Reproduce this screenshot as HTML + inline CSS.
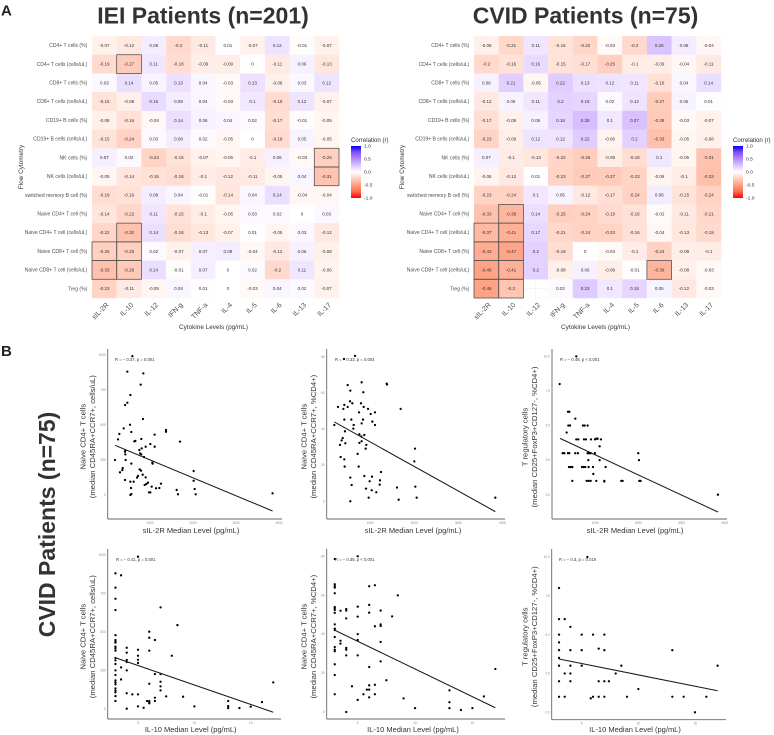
<!DOCTYPE html>
<html>
<head>
<meta charset="utf-8">
<title>Cytokine correlation figure</title>
<style>
html,body{margin:0;padding:0;background:#fff;width:774px;height:735px;overflow:hidden}
svg{display:block;font-family:"Liberation Sans",sans-serif;filter:blur(0.35px)}
</style>
</head>
<body>
<svg id="fig" width="774" height="735" viewBox="0 0 774 735" xmlns="http://www.w3.org/2000/svg">
<defs>
<linearGradient id="corrGrad" x1="0" y1="0" x2="0" y2="1">
<stop offset="0" stop-color="#0000ff"/><stop offset="0.125" stop-color="#8652ff"/><stop offset="0.25" stop-color="#b38bff"/><stop offset="0.375" stop-color="#dcc6ff"/><stop offset="0.5" stop-color="#ffffff"/><stop offset="0.625" stop-color="#ffd0c0"/><stop offset="0.75" stop-color="#ff9e81"/><stop offset="0.875" stop-color="#ff6d4f"/><stop offset="1" stop-color="#ff0000"/>
</linearGradient>
</defs>
<rect x="0" y="0" width="774" height="735" fill="#fff"/>
<text x="1" y="15.5" font-size="15" font-weight="bold" fill="#222">A</text>
<text x="1" y="356" font-size="15" font-weight="bold" fill="#222">B</text>
<text x="203" y="23.5" font-size="23" font-weight="bold" fill="#333" text-anchor="middle">IEI Patients (n=201)</text>
<text x="585.5" y="23.5" font-size="23" font-weight="bold" fill="#333" text-anchor="middle">CVID Patients (n=75)</text>
<text transform="translate(55,524.5) rotate(-90)" font-size="23" font-weight="bold" fill="#333" text-anchor="middle">CVID Patients (n=75)</text>
<g id="heatA"></g>
<g id="heatB"></g>
<g id="p1"></g>
<g id="p2"></g>
<g id="p3"></g>
<g id="p4"></g>
<g id="p5"></g>
<g id="p6"></g>
</svg>
<script>
const cytokines = ["sIL-2R","IL-10","IL-12","IFN-g","TNF-a","IL-4","IL-5","IL-6","IL-13","IL-17"];
const flowRows = ["CD4+ T cells (%)","CD4+ T cells (cells/uL)","CD8+ T cells (%)","CD8+ T cells (cells/uL)","CD19+ B cells (%)","CD19+ B cells (cells/uL)","NK cells (%)","NK cells (cells/uL)","switched memory B cell (%)","Naive CD4+ T cell (%)","Naive CD4+ T cell (cells/uL)","Naive CD8+ T cell (%)","Naive CD8+ T cell (cells/uL)","Treg (%)"];
const legendTicks = [1,0.5,0,-0.5,-1];

const ieiValues = [
[-0.07,-0.12,0.08,-0.2,-0.11,0.01,-0.07,0.12,-0.01,-0.07],
[-0.19,-0.27,0.11,-0.18,-0.09,-0.09,0,-0.11,0.06,-0.13],
[0.03,0.14,0.05,0.13,0.04,-0.03,0.13,-0.08,0.03,0.12],
[-0.15,-0.08,0.16,0.08,0.04,-0.03,0.1,-0.19,0.12,-0.07],
[-0.08,-0.16,-0.04,0.14,0.06,0.04,0.02,-0.17,-0.01,-0.05],
[-0.15,-0.24,0.03,0.08,0.02,-0.05,0,-0.19,0.05,-0.05],
[0.07,0.02,-0.23,-0.15,-0.07,-0.05,-0.1,0.06,-0.03,-0.25],
[-0.05,-0.14,-0.16,-0.18,-0.1,-0.12,-0.11,-0.05,0.04,-0.31],
[-0.18,-0.16,0.08,0.04,-0.01,-0.14,0.04,0.14,-0.04,-0.04],
[-0.14,-0.22,0.11,-0.15,-0.1,-0.05,0.03,0.02,0,0.03],
[-0.22,-0.32,0.14,-0.18,-0.13,-0.07,0.01,-0.05,0.03,-0.12],
[-0.25,-0.25,0.02,-0.07,0.07,0.08,-0.04,-0.12,0.06,-0.08],
[-0.33,-0.28,0.14,-0.01,0.07,0,0.02,-0.2,0.11,-0.06],
[-0.23,-0.11,-0.05,0.04,0.01,0,-0.03,0.04,0.02,-0.07]];
const ieiSignificant = ["1,1","6,9","7,9","10,1","11,0","11,1","12,0","12,1"];

const cvidValues = [
[-0.08,-0.21,0.11,-0.15,-0.22,-0.03,-0.2,0.26,0.08,-0.04],
[-0.2,-0.16,0.16,-0.15,-0.17,-0.25,-0.1,-0.09,-0.04,-0.11],
[0.06,0.21,-0.05,0.22,0.13,0.12,0.11,-0.16,0.04,0.14],
[-0.12,0.05,0.11,0.2,0.18,0.02,0.12,-0.27,0.05,0.01],
[-0.17,-0.08,0.06,0.18,0.28,0.1,0.27,-0.28,-0.03,-0.07],
[-0.23,-0.09,0.12,0.12,0.22,-0.06,0.2,-0.33,-0.05,-0.08],
[0.07,-0.1,-0.13,-0.22,-0.26,-0.09,-0.18,0.1,-0.05,-0.31],
[-0.06,-0.12,0.01,-0.23,-0.27,-0.27,-0.23,-0.06,-0.1,-0.33],
[-0.23,-0.24,0.1,0.05,-0.12,-0.17,-0.24,0.08,-0.15,-0.24],
[-0.33,-0.38,0.14,-0.25,-0.24,-0.19,-0.16,-0.02,-0.11,-0.21],
[-0.37,-0.41,0.17,-0.21,-0.24,-0.23,-0.16,-0.04,-0.13,-0.19],
[-0.43,-0.47,0.2,-0.18,0,-0.03,-0.1,-0.24,-0.09,-0.1],
[-0.48,-0.41,0.2,-0.08,0.06,-0.09,-0.01,-0.39,-0.08,-0.03],
[-0.48,-0.3,null,0.02,0.23,0.1,0.18,0.05,-0.12,-0.03]];
const cvidSignificant = ["9,1","10,0","10,1","11,0","11,1","12,0","12,1","12,7","13,0","13,1"];

const sil2rTicks = [1000,2000,3000,4000];
const il10Ticks = [5,10,15];
const countTicks = [0,250,500,750,1000];
const percentTicks = [0,20,40,60,80];
const tregTicks = [0,2.5,5,7.5,10];
const tregTickLabels = ["0.0","2.5","5.0","7.5","10.0"];

const p1X = [589,473,845,783,543,473,419,837,535,388,566,287,256,798,636,659,1108,1372,1372,1698,1008,1108,806,752,899,426,419,426,768,798,860,186,434,566,1054,1062,760,791,365,357,302,419,830,721,698,899,2015,2015,543,620,954,915,876,1256,1039,1140,1217,558,1620,2039,977,1008,566,543,1651,2062,3850];
const p1Y = [992,881,869,788,714,659,643,543,502,476,450,436,397,400,383,386,431,464,452,381,364,345,333,321,345,319,309,290,297,290,271,250,250,224,231,224,183,174,193,178,162,107,145,136,124,126,171,102,95,95,88,79,71,81,60,48,50,50,36,43,19,19,7,0,5,5,12];
const p1LineX = [186,3850];
const p1LineY = [355,-114];

const p2X = [661,412,495,811,1377,1385,555,849,548,600,796,276,419,495,857,1694,397,955,751,1113,1015,419,578,842,1053,811,193,1113,631,623,434,759,872,804,382,359,811,759,442,321,917,902,2018,721,336,419,2003,427,744,1249,872,1045,555,1226,992,1219,585,1611,2025,910,1038,1143,970,2056,1648,555,3835];
const p2Y = [80.4,78.7,64.3,65.8,65.1,64.6,61.2,60.3,55.3,54.2,54.2,52.2,53.3,52.2,52.2,51.1,51.1,51.1,49.2,49.2,48.3,45.2,45.2,45.2,44.1,43.1,42.2,42.2,42.2,40.2,38.7,37.1,36.7,35.9,35,33.7,33.2,32.3,32.1,31.2,31.2,29.1,29.1,26.2,24.5,23.2,22.1,19.2,19.2,16.2,14,13.6,13.1,11.6,11.1,9.2,9,7.6,8.1,7,6.1,5,2,2,0.9,0,2];
const p2LineX = [193,3835];
const p2LineY = [43.9,-5.7];

const p3X = [559,173,366,397,536,374,413,714,753,822,335,559,606,737,784,900,992,1023,1054,1131,1100,242,281,366,397,536,598,822,853,892,992,1997,838,1100,2013,389,428,467,691,729,768,845,946,1240,954,467,799,845,892,1023,1209,1209,1603,1634,2020,2051,3845];
const p3Y = [10,8,6,6,5.5,5,5,5,5,5,4.5,4,4,4,4,4,4,4.05,4.05,4,3.5,3,3,3,3,3,3,3,3,3,3,3,2.5,2.5,2.5,2,2,2,2,2,2,2,2,2,1.5,1,1,1,1,1,1,0.95,1,1,1,1,0];
const p3LineX = [181,3845];
const p3LineY = [4.07,-1.25];

const p4X = [3,3,3,3,3,3,3,3,3,3,3,3,3,3,3,3,3,3,3,3,3,3,3,3,3.5,3.5,3.5,4,4,4,4,4,4,4,4.5,5,5,5,5,5,5,5,5.5,6,6,6,6,6,6,6,5.8,6.5,6.5,6.5,6.5,7,7,7,7,7,7.5,8,8.5,9,10,13,13,13,14,15,16,17];
const p4Y = [879,786,714,641,478,446,435,429,403,392,377,329,314,290,249,219,184,171,158,132,117,106,82,50,866,268,190,396,364,316,303,249,100,0,93,987,383,344,318,297,93,15,6,500,461,377,162,50,43,35,50,446,225,71,50,658,225,175,145,119,80,344,543,78,15,50,17,4,4,13,43,171];
const p4LineX = [3,17];
const p4LineY = [331,-23];

const p5X = [3,3,3,3,3,3,3,3,3,3,3,3,3,3,3,3,3,3,3,3.5,3.5,3.5,4,4,4,4,4,4,4,4.5,5,5,5,5,5,5,5,5.5,5.8,6,6,6,6,6,6,6,6.5,6.5,6.5,6.5,7,7,7,7,7,7.5,8,8.5,9,10,13,13,13,14,15,16,17];
const p5Y = [78.6,65.6,64.7,63.9,61,53.9,53.3,52.4,50.9,45,42.8,42.1,38.5,33.4,32,31.2,24.5,19,9.1,52,36.6,35.1,52.9,52.1,48.1,32.9,32,29.1,0,13.2,80,54.1,49,40,37,29.1,6.2,9.1,11.5,64.6,55,51,23.1,13.7,11.5,7.5,65.1,44,14,9.1,52.1,45,44.2,36,26,16.3,49.1,59.9,7,2,11.1,5,2,1,2,8,22.1];
const p5LineX = [3,17];
const p5LineY = [42,2.2];

const p6X = [5.5,3,3,3.5,4,3,5,6,7,3,3,4,5,6.5,7,13,3,3,4,5,8.5,17,3.5,4,8,3,4,6.5,7,7.4,10,3,3.5,5.8,6,6.5,7,9,13,14,16,15];
const p6Y = [10,8,6,6,5.5,5,5,5,5,4.5,4,4,4,4.1,4,4,3.5,3,3,3,3,3,2.5,2.5,2.5,2,2,2,2,2,1.5,1,1,0.9,1,1,1,1,1,1,1,0];
const p6LineX = [3,17];
const p6LineY = [3.43,1.39];

const SVGNS = "http://www.w3.org/2000/svg";
function mk(tag, attrs, parent, text){
  const e = document.createElementNS(SVGNS, tag);
  for (const k in attrs) e.setAttribute(k, attrs[k]);
  if (text !== undefined) e.textContent = text;
  parent.appendChild(e);
  return e;
}
function lerpHex(a,b,t){
  const pa=[1,3,5].map(i=>parseInt(a.substr(i,2),16));
  const pb=[1,3,5].map(i=>parseInt(b.substr(i,2),16));
  return "rgb("+pa.map((c,i)=>Math.round(c+(pb[i]-c)*t)).join(",")+")";
}
const redStops = ["#ffffff","#ffd0c0","#ff9e81","#ff6d4f","#ff0000"];
const blueStops = ["#ffffff","#dcc6ff","#b38bff","#8652ff","#0000ff"];
function corrColor(v){
  const s = v<0 ? redStops : blueStops;
  const t = Math.min(1,Math.abs(v))*4;
  const i = Math.min(3,Math.floor(t));
  return lerpHex(s[i],s[i+1],t-i);
}

function drawHeatmap(groupId, values, significant, g){
  const root = document.getElementById(groupId);
  const cw = g.w/cytokines.length, ch = g.h/flowRows.length;
  const xPos = c => g.x + c*cw;
  const yPos = r => g.y + r*ch;
  cytokines.forEach((name,c)=>{
    const cx = xPos(c)+cw/2;
    const gl = mk("line",{x1:cx,x2:cx,y1:g.y-2,y2:g.y+g.h+2,stroke:"#ececec","stroke-width":0.5},root);
    
    
    const lab = mk("text",{transform:"translate("+(cx+2)+","+(g.y+g.h+4.5)+") rotate(-45)","font-size":7,fill:"#4d4d4d","text-anchor":"end","dominant-baseline":"hanging"},root,name);
    
    
  });
  flowRows.forEach((name,r)=>{
    const cy = yPos(r)+ch/2;
    const gl = mk("line",{x1:g.x-2,x2:g.x+g.w+2,y1:cy,y2:cy,stroke:"#ececec","stroke-width":0.5},root);
    
    
    const lab = mk("text",{x:g.x-4.7,y:cy+1.7,"font-size":5.05,fill:"#4d4d4d","text-anchor":"end"},root,name);
    
    
  });
  values.forEach((row,r)=>row.forEach((v,c)=>{
    if (v===null) return;
    const cell = mk("rect",{x:xPos(c),y:yPos(r),width:cw+0.2,height:ch+0.2,fill:corrColor(v)},root);
    
    
  }));
  values.forEach((row,r)=>row.forEach((v,c)=>{
    if (v===null) return;
    const t = mk("text",{x:xPos(c)+cw/2,y:yPos(r)+ch/2+1.6,"font-size":4.5,fill:"#333","text-anchor":"middle"},root,String(v));
    
    
  }));
  significant.forEach(key=>{
    const [r,c] = key.split(",").map(Number);
    const box = mk("rect",{x:xPos(c),y:yPos(r),width:cw,height:ch,fill:"none",stroke:"#555","stroke-width":0.8},root);
    
    
  });
  const xt = mk("text",{x:g.x+g.w/2-2,y:g.y+g.h+31,"font-size":6.4,fill:"#333","text-anchor":"middle"},root,"Cytokine Levels (pg/mL)");
  
  
  const yt = mk("text",{transform:"translate("+g.ytX+","+(g.y+g.h/2)+") rotate(-90)","font-size":6.4,fill:"#333","text-anchor":"middle"},root,"Flow Cytometry");
  
  
  const lt = mk("text",{x:g.lx,y:142,"font-size":6.1,fill:"#333"},root,"Correlation (r)");
  
  
  const bar = mk("rect",{x:g.lx,y:146,width:10,height:52,fill:"url(#corrGrad)"},root);
  
  
  legendTicks.forEach(v=>{
    const ly = 172 - v*26;
    const tl = mk("text",{x:g.lx+13,y:ly+1.7,"font-size":4.9,fill:"#333"},root,v.toFixed(1));
    
    
  });
}

function drawScatter(id, xs, ys, lx, ly, xTicks, yTicks, yLabels, g){
  const root = document.getElementById(id);
  const sx = v => g.x0 + (v-g.xv0)*g.xk;
  const sy = v => g.y0 - v*g.yk;
  const yAxis = mk("line",{x1:g.left,x2:g.left,y1:g.top,y2:g.bottom,stroke:"#666","stroke-width":0.9},root);
  
  
  const xAxis = mk("line",{x1:g.left,x2:g.right,y1:g.bottom,y2:g.bottom,stroke:"#666","stroke-width":0.9},root);
  
  
  xTicks.forEach(v=>{
    const t = mk("text",{x:sx(v),y:g.bottom+4.8,"font-size":3.2,fill:"#888","text-anchor":"middle"},root,String(v));
    
    
  });
  yTicks.forEach((v,i)=>{
    const t = mk("text",{x:g.left-2,y:sy(v)+1.1,"font-size":3.2,fill:"#888","text-anchor":"end"},root,yLabels?yLabels[i]:String(v));
    
    
  });
  xs.forEach((x,i)=>{
    const p = mk("circle",{cx:sx(x),cy:sy(ys[i]),r:1.15,fill:"#000"},root);
    
    
  });
  const fit = mk("line",{x1:sx(lx[0]),y1:sy(ly[0]),x2:sx(lx[1]),y2:sy(ly[1]),stroke:"#1a1a1a","stroke-width":1.05},root);
  
  
  const stat = mk("text",{x:g.rx,y:g.ry,"font-size":4.2,fill:"#333"},root,g.stat);
  
  
  const t1 = mk("text",{transform:"translate("+g.t1x+","+g.tcy+") rotate(-90)","font-size":7.7,fill:"#333","text-anchor":"middle","dominant-baseline":"central"},root,g.title1);
  
  
  const t2 = mk("text",{transform:"translate("+(g.t1x+9.5)+","+g.tcy+") rotate(-90)","font-size":7.7,fill:"#333","text-anchor":"middle","dominant-baseline":"central"},root,g.title2);
  
  
  const xt = mk("text",{x:g.xtx,y:g.xty,"font-size":7.5,fill:"#333","text-anchor":"middle"},root,g.xTitle);
  
  
}

drawHeatmap("heatA", ieiValues, ieiSignificant, {x:92,y:36,w:247,h:262,ytX:23,lx:351});
drawHeatmap("heatB", cvidValues, cvidSignificant, {x:474,y:36,w:247,h:262,ytX:404,lx:733});

const sil2rTitle = "sIL-2R Median Level (pg/mL)";
const il10Title = "IL-10 Median Level (pg/mL)";
const countLine = "(median CD45RA+CCR7+, cells/uL)";
const pctLine = "(median CD45RA+CCR7+, %CD4+)";
const tregLine = "(median CD25+FoxP3+CD127-, %CD4+)";

drawScatter("p1",p1X,p1Y,p1LineX,p1LineY,sil2rTicks,countTicks,null,{x0:150,xv0:1000,xk:0.043,y0:495,yk:0.14,left:107.7,right:282,top:349,bottom:519,rx:115,ry:361,stat:"R = − 0.37, p = 0.001",t1x:83,tcy:436.7,title1:"Naive CD4+ T cells",title2:countLine,xtx:191,xty:533,xTitle:sil2rTitle});
drawScatter("p2",p2X,p2Y,p2LineX,p2LineY,sil2rTicks,percentTicks,null,{x0:370,xv0:1000,xk:0.0442,y0:501.3,yk:1.808,left:326.7,right:505,top:349,bottom:519,rx:335,ry:361,stat:"R = − 0.33, p = 0.004",t1x:304,tcy:436.7,title1:"Naive CD4+ T cells",title2:pctLine,xtx:413,xty:533,xTitle:sil2rTitle});
drawScatter("p3",p3X,p3Y,p3LineX,p3LineY,sil2rTicks,tregTicks,tregTickLabels,{x0:595.3,xv0:1000,xk:0.0431,y0:494.7,yk:13.83,left:552,right:727,top:349,bottom:519,rx:560,ry:361,stat:"R = − 0.48, p < 0.001",t1x:525,tcy:437,title1:"T regulatory cells",title2:tregLine,xtx:635,xty:533,xTitle:sil2rTitle});
drawScatter("p4",p4X,p4Y,p4LineX,p4LineY,il10Ticks,countTicks,null,{x0:138,xv0:5,xk:11.27,y0:708.7,yk:0.154,left:107.7,right:281,top:549,bottom:719,rx:116,ry:561,stat:"R = − 0.41, p = 0.001",t1x:83,tcy:636.7,title1:"Naive CD4+ T cells",title2:countLine,xtx:190.7,xty:732,xTitle:il10Title});
drawScatter("p5",p5X,p5Y,p5LineX,p5LineY,il10Ticks,percentTicks,null,{x0:357.7,xv0:5,xk:11.47,y0:712,yk:1.947,left:326.7,right:505,top:548.7,bottom:719,rx:335,ry:561,stat:"R = − 0.38, p < 0.001",t1x:304,tcy:636.7,title1:"Naive CD4+ T cells",title2:pctLine,xtx:413,xty:732,xTitle:il10Title});
drawScatter("p6",p6X,p6Y,p6LineX,p6LineY,il10Ticks,tregTicks,tregTickLabels,{x0:581.7,xv0:5,xk:11.33,y0:712.3,yk:15.53,left:551.7,right:726,top:549,bottom:719.7,rx:559,ry:561,stat:"R = − 0.3, p = 0.019",t1x:525,tcy:636.7,title1:"T regulatory cells",title2:tregLine,xtx:635,xty:732,xTitle:il10Title});
</script>
</body>
</html>
